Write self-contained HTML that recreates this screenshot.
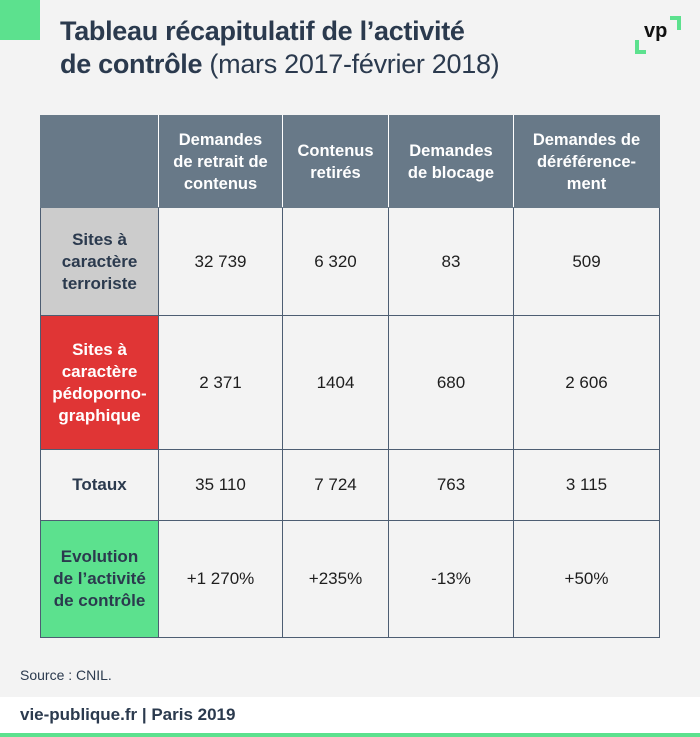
<!DOCTYPE html>
<html><head><meta charset="utf-8"><style>
*{margin:0;padding:0;box-sizing:border-box}
body{width:700px;height:737px;background:#f3f3f3;font-family:"Liberation Sans",sans-serif;color:#2b3a4e;position:relative;overflow:hidden}
.abs{position:absolute}
table{position:absolute;left:40px;top:115px;border-collapse:collapse;table-layout:fixed;width:619px}
td{border:1px solid #4d5d72;text-align:center;vertical-align:middle;font-size:17px;line-height:22px;color:#1e1e1e}
tr.h td{background:#687988;color:#fff;border-color:#687988;border-right:1px solid #fff;border-left:1px solid #fff;font-weight:bold;font-size:16.5px}
tr.h td:first-child{border-left-color:#687988}
tr.h td:last-child{border-right-color:#687988}
td.lab{font-weight:bold;color:#2b3a4e}
</style></head><body>
<div class="abs" style="left:0;top:0;width:40px;height:40px;background:#5ce18e"></div>
<div class="abs" style="left:60px;top:15px;font-size:27px;line-height:33px;color:#2b3a4e;letter-spacing:-0.3px"><b>Tableau récapitulatif de l’activité<br>de contrôle</b> (mars 2017-février 2018)</div>
<div class="abs" style="left:635px;top:16px;width:46px;height:38px">
<div class="abs" style="right:0;top:0;border-top:4px solid #5ce18e;border-right:4px solid #5ce18e;width:11px;height:14px"></div>
<div class="abs" style="left:0;bottom:0;border-bottom:4px solid #5ce18e;border-left:4px solid #5ce18e;width:11px;height:14px"></div>
<div class="abs" style="left:9px;top:4px;font-size:20px;font-weight:bold;color:#111">vp</div>
</div>
<table>
<colgroup><col style="width:118px"><col style="width:124px"><col style="width:106px"><col style="width:125px"><col style="width:146px"></colgroup>
<tr class="h" style="height:92px">
<td></td><td>Demandes<br>de retrait de<br>contenus</td><td>Contenus<br>retirés</td><td>Demandes<br>de blocage</td><td>Demandes de<br>déréférence-<br>ment</td></tr>
<tr style="height:108px">
<td class="lab" style="background:#cccccc">Sites à<br>caractère<br>terroriste</td><td>32 739</td><td>6 320</td><td>83</td><td>509</td></tr>
<tr style="height:134px">
<td class="lab" style="background:#e03535;color:#fff">Sites à<br>caractère<br>pédoporno-<br>graphique</td><td>2 371</td><td>1404</td><td>680</td><td>2 606</td></tr>
<tr style="height:71px">
<td class="lab">Totaux</td><td>35 110</td><td>7 724</td><td>763</td><td>3 115</td></tr>
<tr style="height:117px">
<td class="lab" style="background:#5ce18e">Evolution<br>de l’activité<br>de contrôle</td><td>+1 270%</td><td>+235%</td><td>-13%</td><td>+50%</td></tr>
</table>
<div class="abs" style="left:20px;top:667px;font-size:14px;color:#2b3a4e">Source : CNIL.</div>
<div class="abs" style="left:0;top:697px;width:700px;height:36px;background:#fff"><div style="position:absolute;left:20px;top:8px;font-size:17px;font-weight:bold;color:#2b3a4e">vie-publique.fr | Paris 2019</div></div>
<div class="abs" style="left:0;top:733px;width:700px;height:4px;background:#5ce18e"></div>
</body></html>
